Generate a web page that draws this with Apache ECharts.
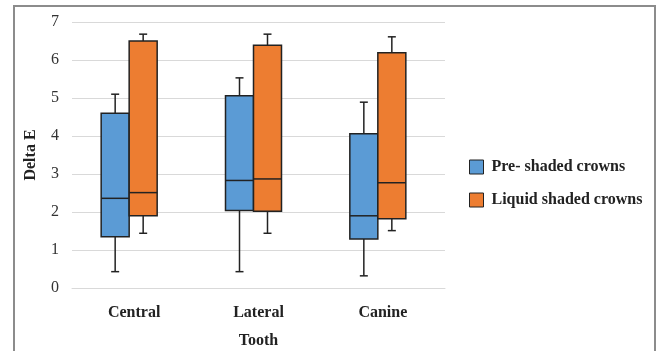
<!DOCTYPE html>
<html>
<head>
<meta charset="utf-8">
<script src="https://cdn.jsdelivr.net/npm/echarts@6/dist/echarts.min.js"></script>
<style>
  html, body { margin: 0; padding: 0; background: #fff; }
  #show { width: 659px; height: 351px; }
</style>
</head>
<body>
<div id="show"></div>
<script>
var categories = ['Central', 'Lateral', 'Canine'];
// [min, Q1, median, Q3, max]
var preShaded = [
    [0.43, 1.35, 2.36, 4.60, 5.10],
    [0.43, 2.04, 2.83, 5.06, 5.53],
    [0.32, 1.29, 1.90, 4.06, 4.89]
];
var liquidShaded = [
    [1.44, 1.90, 2.51, 6.50, 6.68],
    [1.44, 2.02, 2.87, 6.39, 6.68],
    [1.51, 1.82, 2.77, 6.19, 6.61]
];
var yTicks = [0, 1, 2, 3, 4, 5, 6, 7];

var serif = '"Liberation Serif", "Times New Roman", serif';
var myChart = echarts.init(document.getElementById('show'));

function boxRenderer(offset, width) {
    return function (params, api) {
        var idx = api.value(0);
        var cx = api.coord([idx, 0])[0] + offset;
        var y = function (k) { return api.coord([idx, api.value(k)])[1]; };
        var yMin = y(1), yQ1 = y(2), yMed = y(3), yQ3 = y(4), yMax = y(5);
        var half = width / 2, cap = 4;
        var line = { stroke: '#222', lineWidth: 1.5 };
        return {
            type: 'group',
            children: [
                { type: 'line', shape: { x1: cx, y1: yMax, x2: cx, y2: yQ3 }, style: line },
                { type: 'line', shape: { x1: cx, y1: yQ1, x2: cx, y2: yMin }, style: line },
                { type: 'line', shape: { x1: cx - cap, y1: yMax, x2: cx + cap, y2: yMax }, style: line },
                { type: 'line', shape: { x1: cx - cap, y1: yMin, x2: cx + cap, y2: yMin }, style: line },
                {
                    type: 'rect',
                    shape: { x: cx - half, y: yQ3, width: width, height: yQ1 - yQ3 },
                    style: { fill: api.visual('color'), stroke: '#222', lineWidth: 1.5 }
                },
                { type: 'line', shape: { x1: cx - half, y1: yMed, x2: cx + half, y2: yMed }, style: line }
            ]
        };
    };
}

function toData(arr) {
    return arr.map(function (d, i) { return [i].concat(d); });
}

myChart.setOption({
    animation: false,
    grid: { left: 72, right: 214, top: 22, bottom: 63, outerBoundsMode: 'none' },
    graphic: [{
        type: 'rect',
        shape: { x: 14, y: 6, width: 641, height: 360 },
        style: { fill: 'none', stroke: '#8c8c8c', lineWidth: 2 },
        silent: true
    }],
    legend: {
        orient: 'vertical',
        left: 469,
        top: 159,
        padding: 0,
        itemWidth: 14,
        itemHeight: 14,
        itemGap: 17,
        icon: 'rect',
        textStyle: { fontFamily: serif, fontSize: 16, fontWeight: 'bold', color: '#222', padding: [0, 0, 0, 3] },
        itemStyle: { borderColor: '#222', borderWidth: 1 },
        data: ['Pre- shaded crowns', 'Liquid shaded crowns']
    },
    xAxis: {
        type: 'category',
        data: categories,
        axisTick: { show: false },
        axisLine: { lineStyle: { color: '#d9d9d9' } },
        axisLabel: { fontFamily: serif, fontSize: 16, fontWeight: 'bold', color: '#222', margin: 17 },
        name: 'Tooth',
        nameLocation: 'middle',
        nameGap: 45,
        nameTextStyle: { fontFamily: serif, fontSize: 16, fontWeight: 'bold', color: '#222' }
    },
    yAxis: {
        type: 'value',
        min: yTicks[0],
        max: yTicks[yTicks.length - 1],
        interval: 1,
        axisLine: { show: false },
        axisTick: { show: false },
        splitLine: { lineStyle: { color: '#d9d9d9' } },
        axisLabel: { fontFamily: serif, fontSize: 16, color: '#333', margin: 13 },
        name: 'Delta E',
        nameLocation: 'middle',
        nameGap: 33,
        nameTextStyle: { fontFamily: serif, fontSize: 16, fontWeight: 'bold', color: '#222' }
    },
    series: [
        {
            name: 'Pre- shaded crowns',
            type: 'custom',
            color: '#5b9bd5',
            renderItem: boxRenderer(-19, 28),
            encode: { x: 0, y: [1, 2, 3, 4, 5] },
            data: toData(preShaded)
        },
        {
            name: 'Liquid shaded crowns',
            type: 'custom',
            color: '#ed7d31',
            renderItem: boxRenderer(9, 28),
            encode: { x: 0, y: [1, 2, 3, 4, 5] },
            data: toData(liquidShaded)
        }
    ]
});
</script>
</body>
</html>
